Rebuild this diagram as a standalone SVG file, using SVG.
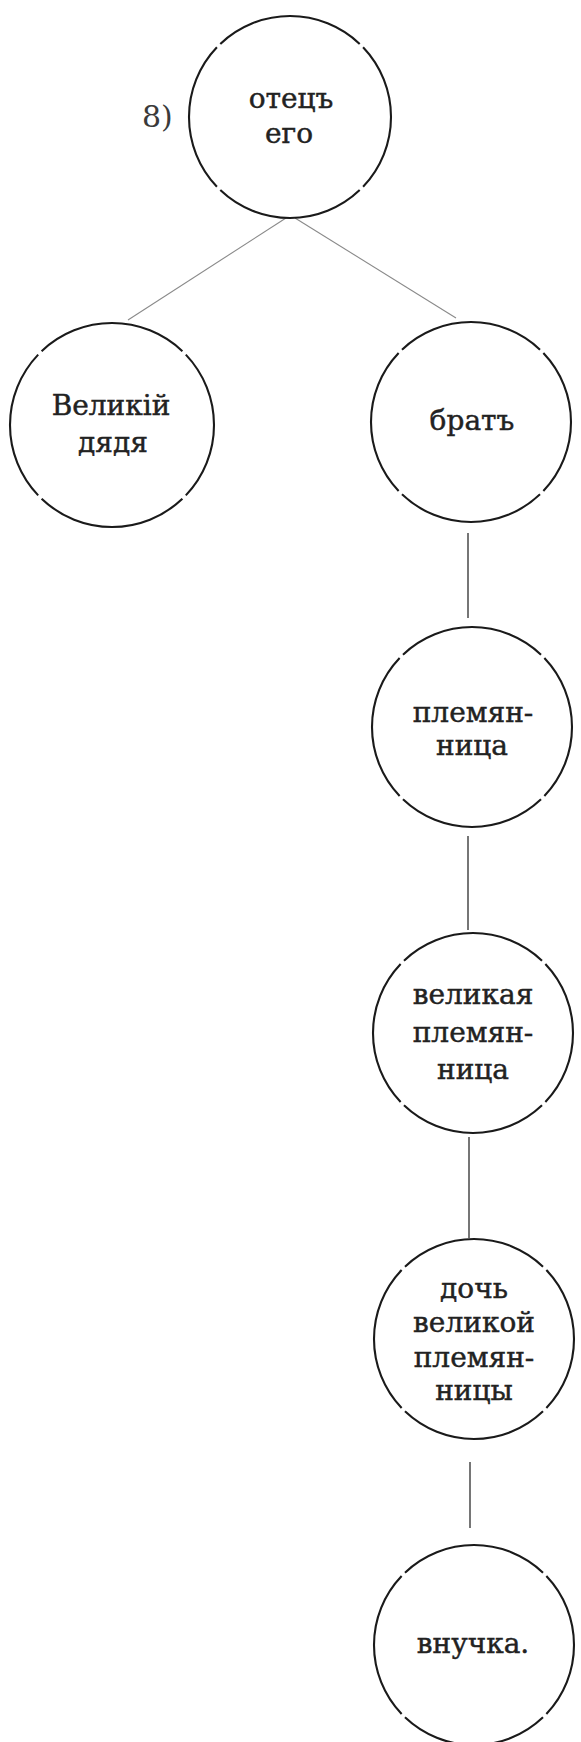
<svg xmlns="http://www.w3.org/2000/svg" width="581" height="1742" viewBox="0 0 581 1742">
<style>
  .bg { fill: #ffffff; }
  .node { fill: none; stroke: #1a1a1a; stroke-width: 2.1; stroke-dasharray: 97 3; stroke-dashoffset: 48.5; }
  .lbl { font-family: "DejaVu Serif", "Liberation Serif", serif; font-size: 28px; fill: #222222; stroke: #222222; stroke-width: 0.45; text-anchor: middle; }
  .num { font-family: "DejaVu Serif", "Liberation Serif", serif; font-size: 30px; fill: #3a3a3a; }
  .diag { stroke: #8a8a8a; stroke-width: 1.1; fill: none; }
  .vert { stroke: #3c3c3c; stroke-width: 1.4; fill: none; }
</style>
<rect class="bg" x="0" y="0" width="581" height="1742"/>
<text class="num" x="142" y="127">8)</text>
<g id="connectors">
  <line class="diag" x1="286" y1="218" x2="128" y2="320"/>
  <line class="diag" x1="295" y1="218" x2="456" y2="318"/>
  <line class="vert" x1="468" y1="533" x2="468" y2="618"/>
  <line class="vert" x1="468" y1="836" x2="468" y2="930"/>
  <line class="vert" x1="469" y1="1137" x2="469" y2="1238"/>
  <line class="vert" x1="470" y1="1462" x2="470" y2="1528"/>
</g>
<g id="node-father">
  <circle class="node" cx="290" cy="117" r="101" pathLength="400"/>
  <text class="lbl" x="291" y="108">отецъ</text>
  <text class="lbl" x="289" y="143">его</text>
</g>
<g id="node-great-uncle">
  <circle class="node" cx="112" cy="425" r="102" pathLength="400"/>
  <text class="lbl" x="111" y="415">Великій</text>
  <text class="lbl" x="113" y="452">дядя</text>
</g>
<g id="node-brother">
  <circle class="node" cx="471" cy="422" r="100" pathLength="400"/>
  <text class="lbl" x="472" y="430">братъ</text>
</g>
<g id="node-niece">
  <circle class="node" cx="472" cy="727" r="100" pathLength="400"/>
  <text class="lbl" x="473" y="722">племян-</text>
  <text class="lbl" x="472" y="755">ница</text>
</g>
<g id="node-great-niece">
  <circle class="node" cx="473" cy="1033" r="100" pathLength="400"/>
  <text class="lbl" x="473" y="1004">великая</text>
  <text class="lbl" x="473" y="1042">племян-</text>
  <text class="lbl" x="473" y="1079">ница</text>
</g>
<g id="node-great-niece-daughter">
  <circle class="node" cx="474" cy="1339" r="100" pathLength="400"/>
  <text class="lbl" x="474" y="1298">дочь</text>
  <text class="lbl" x="474" y="1332">великой</text>
  <text class="lbl" x="474" y="1367">племян-</text>
  <text class="lbl" x="474" y="1400">ницы</text>
</g>
<g id="node-granddaughter">
  <circle class="node" cx="474" cy="1645" r="100" pathLength="400"/>
  <text class="lbl" x="473" y="1653">внучка.</text>
</g>
</svg>
